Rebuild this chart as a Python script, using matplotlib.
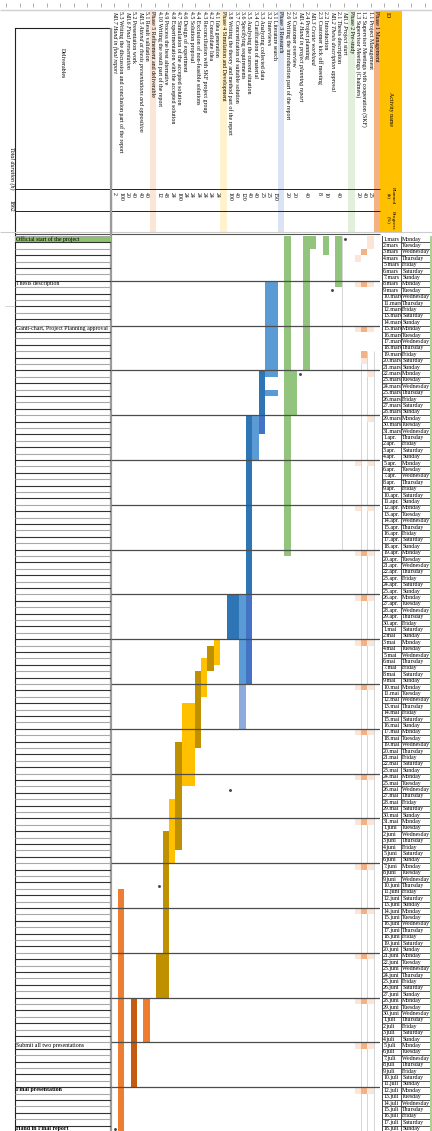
"""
Rotated Excel-style Gantt chart for a master thesis project (1 mars - 18 juli 2021).
Activities run as columns, days run as rows.
"""

from datetime import date, timedelta

import numpy as np
import matplotlib.pyplot as plt
from matplotlib import transforms as mtrans
from matplotlib.patches import Rectangle

plt.rcParams['font.family'] = ['Liberation Serif', 'DejaVu Serif']

# ---------------------------------------------------------------- data
START = date(2021, 3, 1)
N_DAYS = 140          # 1 mars .. 18 juli
TOTAL_HOURS = '1862'

ids = ['Phase 1', '1.1', '1.2', '1.3',
       'Phase 2', 'Mil.1', '2.1', 'Mil.2', '2.2', '2.3', 'Mil.3', '2.4', 'Mil.4', '2.5', '2.6',
       'Phase 3', '3.1', '3.2', '3.3', '3.4', '3.5', '3.6', '3.7', '3.8',
       'Phase 4', '4.1', '4.2', '4.3', '4.4', '4.5', '4.6', '4.7', '4.8', '4.9', '4.10',
       'Phase 5', '5.1', 'Mil.5', '5.2', 'Mil.6', '5.3', 'Mil.7']

names = ['Management', 'Project Management',
         'Supervisor Meetings with cooperation (SKF)', 'Supervisor Meetings (Chalmers)',
         'Pre-study', 'Project start', 'Thesis description', 'Thesis description approval',
         'Introduction', 'Customer kick off meeting', 'Create workload', 'Project planning',
         'Hand in project planning report', 'Customer overview',
         'Writing the introduction part of the report',
         'Research', 'Literature search', 'Interviews', 'Analyzing collected data',
         'Clarification of material', 'Analysing the current situation',
         'Specifying requirements', 'Concretization of suitable solution',
         'Writing the theory and method part of the report',
         'Simulation and Development', 'Idea generation', 'Consolidate Idea',
         'Reconciliation with SKF project group', 'Exclusion of non-feasible solutions',
         'Solution proposal', 'Design of experiment', 'Simulation of the accepted solution',
         'Experimentation with the accepted solution', 'Process the best alternative',
         'Writing the result part of the report',
         'Refinement and deliverable', 'Result validation',
         'Attend at thesis presentations and opposition', 'Presentation work',
         'Final presentation', 'Writing the discussion and conclusion part of the report',
         'Hand in final report']

planned = ['', '25', '40', '20',
           '', '', '40', '', '10', '8', '', '40', '', '20', '20',
           '', '150', '25', '25', '40', '40', '120', '40', '100',
           '', '24', '24', '24', '24', '24', '24', '100', '24', '48', '12',
           '', '40', '40', '40', '20', '100', '2']

# task bars: (activity id, first day, last day, shade)
green_bars = [('2.1', '03-01', '03-08', 0), ('2.2', '03-01', '03-03', 0),
              ('Mil.3', '03-01', '03-02', 0), ('2.4', '03-01', '03-21', 0),
              ('2.5', '03-22', '03-28', 0), ('2.6', '03-01', '04-19', 0)]
blue_bars = [('3.1', '03-08', '03-22', 0), ('3.2', '03-08', '03-22', 0),
             ('3.1', '03-25', '03-25', 0), ('3.2', '03-25', '03-25', 0),
             ('3.3', '03-22', '03-28', 1), ('3.3', '03-29', '03-31', 2),
             ('3.4', '03-29', '04-04', 0), ('3.5', '03-29', '04-25', 1),
             ('3.5', '04-26', '05-09', 2), ('3.6', '04-26', '05-09', 0),
             ('3.6', '05-10', '05-16', 3), ('3.7', '04-26', '05-02', 1),
             ('3.8', '04-26', '05-02', 1)]
yellow_bars = [('4.1', '05-03', '05-06', 0), ('4.2', '05-04', '05-07', 1),
               ('4.3', '05-06', '05-11', 0), ('4.4', '05-08', '05-19', 1),
               ('4.5', '05-13', '05-25', 0), ('4.6', '05-13', '05-25', 0),
               ('4.7', '05-19', '06-04', 1), ('4.8', '05-28', '06-06', 0),
               ('4.9', '06-02', '06-27', 1), ('4.10', '06-21', '06-27', 1)]
orange_bars = [('5.3', '06-11', '07-18', 0), ('5.2', '06-28', '07-11', 1),
               ('5.1', '06-28', '07-04', 0)]

# supervisor / management meetings
meet_11 = ['03-01', '03-02', '03-08', '03-15', '03-22', '03-29', '04-05', '04-12',
           '04-19', '04-26', '05-03', '05-10', '05-17', '05-24', '05-31', '06-07',
           '06-14', '06-21', '06-28', '07-05', '07-12']
meet_12 = ['03-03', '03-08', '03-15', '03-19', '04-19', '04-26', '05-03', '05-10',
           '05-17', '05-24', '05-31', '06-07', '06-14', '06-21', '06-28', '07-05', '07-12']
meet_12_light = ['03-20']
meet_13 = ['03-04', '03-08', '03-15', '04-05', '04-12', '04-19', '04-26', '05-03',
           '05-10', '05-17', '05-24', '05-31', '06-07', '06-14', '06-21', '06-28',
           '07-05', '07-12']

milestones = [('Mil.1', '03-01'), ('Mil.2', '03-09'), ('Mil.4', '03-22'),
              ('3.8', '05-26'), ('4.10', '06-10'), ('Mil.7', '07-18')]

deliv_dates = ['03-01', '03-08', '03-15', '07-05', '07-12', '07-18']
deliv_text = ['Official start of the project', 'Thesis description',
              'Gantt-chart, Project Planning approval', 'Submit all two presentations',
              'Final presentation', 'Hand in Final report']
deliv_bold = [False, False, False, False, True, True]

months = {3: 'mars', 4: 'apr.', 5: 'mai', 6: 'juni', 7: 'juli'}

# ---------------------------------------------------------------- styles
phase_colors = {'Phase 1': '#F4B183', 'Phase 2': '#E2EFDA', 'Phase 3': '#DAE3F3',
                'Phase 4': '#FFF2CC', 'Phase 5': '#FBE5D6'}
green = ['#93C47D']
blue = ['#5B9BD5', '#2E75B6', '#4472C4', '#8FAADC']
yellow = ['#FFC000', '#BF9000']
orange = ['#ED7D31', '#C55A11']
peach_light, peach_dark = '#FBE5D6', '#F4B183'
FS = 4.2


def day(s):
    m, d = map(int, s.split('-'))
    return (date(2021, m, d) - START).days


col = {a: i for i, a in enumerate(ids)}
n_cols = len(ids)

W, H = 432, 1131
fig = plt.figure(figsize=(W / 100, H / 100), dpi=100)


def box(x0, y0, x1, y1):
    return [x0 / W, 1 - y1 / H, (x1 - x0) / W, (y1 - y0) / H]


# background / layout axes in pixel units
bg = fig.add_axes([0, 0, 1, 1])
bg.set_xlim(0, W)
bg.set_ylim(H, 0)
bg.axis('off')

ROW0, ROW_H = 235.9, 6.4
GX0, GX1 = 111.4, 380.2
y_end = ROW0 + N_DAYS * ROW_H

gx = fig.add_axes(box(GX0, ROW0, GX1, y_end))
gx.set_xlim(n_cols - 0.5, -0.5)
gx.set_ylim(N_DAYS, 0)
gx.axis('off')
gx.patch.set_visible(False)

ht = mtrans.blended_transform_factory(gx.transData, bg.transData)

# ---------------------------------------------------------------- header
bg.hlines(9.5, 0, W, color='#d0d0d0', lw=1)
bg.vlines(np.arange(6, W, 13.5), 2.5, 7, color='#a0a0a0', lw=0.6)

for a, c in phase_colors.items():
    bg.add_patch(Rectangle((col[a] - 0.5, 10), 1, 223, transform=ht,
                           facecolor=c, edgecolor='none'))

bg.add_patch(Rectangle((GX1, 10), 21.5, 223, facecolor='#FFC000', edgecolor='none'))
bg.text(387, 12, 'ID', rotation=-90, ha='center', va='top', fontsize=FS)
bg.text(391, 92, 'Activity name', rotation=-90, ha='center', va='top', fontsize=FS)
bg.text(391, 187, 'Planned\n(h)', rotation=-90, ha='center', va='top', fontsize=FS - 0.3,
        linespacing=1.0)
bg.text(391, 211, 'Progress\n(%)', rotation=-90, ha='center', va='top', fontsize=FS - 0.3,
        linespacing=1.0)

for i in range(n_cols):
    style = 'italic' if ids[i].startswith('Mil') else 'normal'
    bg.text(i, 11, f'{ids[i]} {names[i]}', transform=ht, rotation=-90, ha='center',
            va='top', fontsize=FS, fontstyle=style)
    if planned[i]:
        bg.text(i, 192, planned[i], transform=ht, rotation=-90, ha='center', va='top',
                fontsize=FS)

# header grid
bg.plot([15, 111, 111], [28, 28, 233], color='#222', lw=0.8)
bg.vlines(15, 28, H, color='#222', lw=0.8)
bg.hlines([189, 211], 15, GX1, color='#222', lw=0.7)
bg.hlines(231.8, 0, W, color='#cccccc', lw=0.8)
bg.hlines(233.6, 15, GX1, color='#555', lw=0.8)
bg.vlines(110.8, 28, H, color='#9a9a9a', lw=1.6)
bg.text(62, 48, 'Deliverables', rotation=-90, ha='center', va='top', fontsize=FS)
bg.text(11.5, 147, 'Total duration (h)', rotation=-90, ha='center', va='top',
        fontsize=FS, fontstyle='italic')
bg.text(11.5, 200, TOTAL_HOURS, rotation=-90, ha='center', va='top', fontsize=FS)
bg.hlines(306, 5, 15, color='#cccccc', lw=0.6)
bg.vlines(431.2, ROW0, H, color='#9BC87F', lw=1.2)

# ---------------------------------------------------------------- gantt body
mondays = [d for d in range(1, N_DAYS) if (START + timedelta(d)).weekday() == 0]
gx.vlines([0.5, 1.5, 2.5], 18, N_DAYS, color='#cfcfcf', lw=0.6)
gx.vlines(5.5, 0, 49, color='#cfcfcf', lw=0.6)


def draw_meet(act, days, color):
    d = np.array([day(s) for s in days])
    gx.bar(np.full(len(d), col[act]), np.ones(len(d)), bottom=d, width=1.0,
           color=color, linewidth=0, zorder=2)


draw_meet('1.1', meet_11, peach_light)
draw_meet('1.3', meet_13, peach_light)
draw_meet('1.2', meet_12_light, peach_light)
draw_meet('1.2', meet_12, peach_dark)

for bars, palette in [(green_bars, green), (blue_bars, blue),
                      (yellow_bars, yellow), (orange_bars, orange)]:
    x = [col[b[0]] for b in bars]
    s = np.array([day(b[1]) for b in bars])
    e = np.array([day(b[2]) for b in bars])
    c = [palette[b[3]] for b in bars]
    gx.bar(x, e - s + 1, bottom=s, width=1.0, color=c, linewidth=0, zorder=3)

mx = [col[m[0]] for m in milestones]
my = [day(m[1]) + 0.5 for m in milestones]
gx.plot(mx, my, 'o', ms=1.1, color='#444', zorder=4)

gx.hlines(mondays, -0.5, n_cols - 0.5, color='#4d4d4d', lw=0.9, zorder=5)

# ---------------------------------------------------------------- deliverables
lx = fig.add_axes(box(15, ROW0, 110.5, y_end))
lx.set_xlim(0, 1)
lx.set_ylim(N_DAYS, 0)
lx.axis('off')
lx.patch.set_visible(False)
rows = np.arange(0, N_DAYS + 1)
lx.hlines(rows, 0, 1, colors=['#333' if r % 2 else '#a8a8a8' for r in rows], lw=0.8)
for s, t, b in zip(deliv_dates, deliv_text, deliv_bold):
    d = day(s)
    if d == 0:
        lx.bar(0.5, 1, bottom=d, width=1, color='#8DC26F', linewidth=0)
    lx.text(0.01, d + 0.45, t, va='center', ha='left', fontsize=FS,
            fontweight='bold' if b else 'normal')

# ---------------------------------------------------------------- dates
dx = fig.add_axes(box(381.7, ROW0, 430.5, y_end))
dx.set_xlim(0, 1)
dx.set_ylim(N_DAYS, 0)
dx.axis('off')
dx.patch.set_visible(False)
dx.hlines(rows[1:], 0, 1, color='#3a3a3a', lw=0.6)
dx.vlines(0, 0, N_DAYS, color='#3a3a3a', lw=1.3)
dx.vlines([0.39, 1], 0, N_DAYS, color='#3a3a3a', lw=0.6)
for d in range(N_DAYS):
    dt = START + timedelta(d)
    dx.text(0.03, d + 0.5, f'{dt.day}.{months[dt.month]}', va='center', ha='left',
            fontsize=FS)
    dx.text(0.42, d + 0.5, dt.strftime('%A'), va='center', ha='left', fontsize=FS)

fig.savefig('out.png', dpi=100)
